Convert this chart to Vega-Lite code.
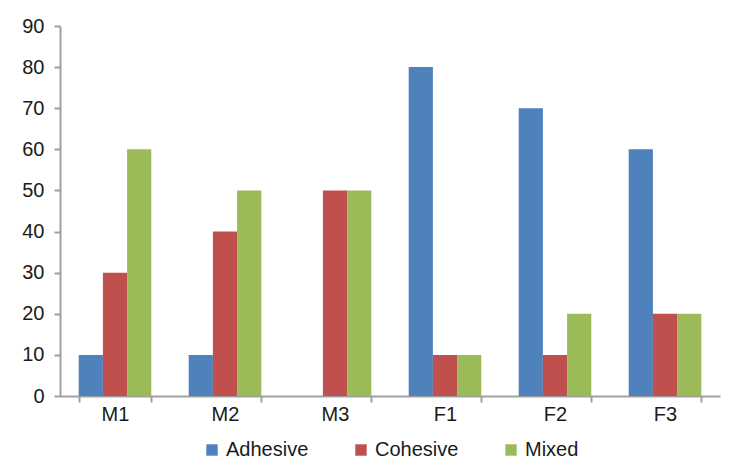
{
  "$schema": "https://vega.github.io/schema/vega-lite/v6.json",
  "width": 660,
  "height": 370,
  "autosize": {"type": "none"},
  "padding": {"left": 60, "top": 26, "right": 23, "bottom": 76},
  "background": "white",
  "data": {
    "values": [
      {"group": "M1", "type": "Adhesive", "value": 10},
      {"group": "M1", "type": "Cohesive", "value": 30},
      {"group": "M1", "type": "Mixed", "value": 60},
      {"group": "M2", "type": "Adhesive", "value": 10},
      {"group": "M2", "type": "Cohesive", "value": 40},
      {"group": "M2", "type": "Mixed", "value": 50},
      {"group": "M3", "type": "Adhesive", "value": 0},
      {"group": "M3", "type": "Cohesive", "value": 50},
      {"group": "M3", "type": "Mixed", "value": 50},
      {"group": "F1", "type": "Adhesive", "value": 80},
      {"group": "F1", "type": "Cohesive", "value": 10},
      {"group": "F1", "type": "Mixed", "value": 10},
      {"group": "F2", "type": "Adhesive", "value": 70},
      {"group": "F2", "type": "Cohesive", "value": 10},
      {"group": "F2", "type": "Mixed", "value": 20},
      {"group": "F3", "type": "Adhesive", "value": 60},
      {"group": "F3", "type": "Cohesive", "value": 20},
      {"group": "F3", "type": "Mixed", "value": 20}
    ]
  },
  "mark": {"type": "bar"},
  "encoding": {
    "x": {
      "field": "group",
      "type": "nominal",
      "sort": ["M1", "M2", "M3", "F1", "F2", "F3"],
      "scale": {"paddingInner": 0.34, "paddingOuter": 0.17},
      "axis": {
        "title": null,
        "labelAngle": 0,
        "tickBand": "extent",
        "tickSize": 6,
        "tickColor": "#a0a0a0",
        "tickWidth": 2,
        "domainColor": "#a0a0a0",
        "domainWidth": 2,
        "labelFont": "Liberation Sans",
        "labelFontSize": 20,
        "labelColor": "#1a1a1a",
        "labelPadding": 2
      }
    },
    "xOffset": {
      "field": "type",
      "type": "nominal",
      "sort": ["Adhesive", "Cohesive", "Mixed"],
      "scale": {"paddingInner": 0, "paddingOuter": 0}
    },
    "y": {
      "field": "value",
      "type": "quantitative",
      "scale": {"domain": [0, 90]},
      "axis": {
        "title": null,
        "values": [0, 10, 20, 30, 40, 50, 60, 70, 80, 90],
        "grid": false,
        "tickSize": 6,
        "tickColor": "#a0a0a0",
        "tickWidth": 2,
        "domainColor": "#a0a0a0",
        "domainWidth": 2,
        "labelFont": "Liberation Sans",
        "labelFontSize": 20,
        "labelColor": "#1a1a1a",
        "labelPadding": 10
      }
    },
    "color": {
      "field": "type",
      "type": "nominal",
      "sort": ["Adhesive", "Cohesive", "Mixed"],
      "scale": {"range": ["#4F81BD", "#C0504D", "#9BBB59"]},
      "legend": {
        "title": null,
        "orient": "bottom",
        "direction": "horizontal",
        "symbolType": "square",
        "symbolSize": 130,
        "symbolStrokeWidth": 0,
        "labelFont": "Liberation Sans",
        "labelFontSize": 20,
        "labelColor": "#1a1a1a",
        "labelOffset": 4,
        "columnPadding": 42,
        "offset": 16
      }
    }
  },
  "config": {
    "view": {"stroke": null},
    "legend": {"layout": {"bottom": {"anchor": "middle"}}}
  }
}
